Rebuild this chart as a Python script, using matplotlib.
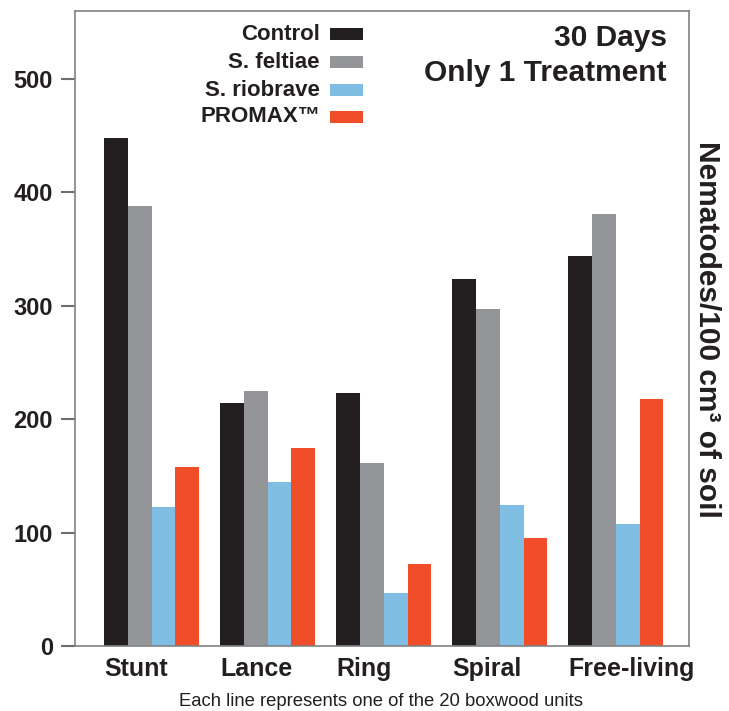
import matplotlib
matplotlib.use("Agg")
import matplotlib.pyplot as plt
import numpy as np
from matplotlib.patches import Rectangle

categories = ["Stunt", "Lance", "Ring", "Spiral", "Free-living"]
series_names = ["Control", "S. feltiae", "S. riobrave", "PROMAX\u2122"]
control = [448, 214, 223, 324, 344]
feltiae = [388, 225, 161, 297, 381]
riobrave = [123, 145, 47, 124, 108]
promax = [158, 175, 72, 95, 218]
yticks = [0, 100, 200, 300, 400, 500]

colors = ["#231f20", "#939598", "#7fbde2", "#f04e28"]
series = [control, feltiae, riobrave, promax]

plt.rcParams['font.family'] = ['Liberation Sans', 'DejaVu Sans']

fig = plt.figure(figsize=(7.29, 7.11), dpi=100)
ax = fig.add_axes([75/729, 1-646/711, (689-75)/729, (646-11)/711])

x = np.arange(len(categories))
w = 0.205
for i, (vals, c) in enumerate(zip(series, colors)):
    ax.bar(x + (i - 1.5) * w, vals, width=w, color=c, linewidth=0)

ax.set_xlim(-0.66, 4.63)
ax.set_ylim(0, 560)
ax.set_yticks(yticks)
ax.set_yticklabels([str(t) for t in yticks], fontsize=17, fontweight='bold', color='#231f20')
ax.set_xticks(x - 2 * w)
ax.set_xticklabels(categories, fontsize=18, fontweight='bold', color='#231f20', ha='left')
ax.tick_params(axis='y', length=10, width=1.5, color='#6d6e71', pad=6, direction='out')
ax.tick_params(axis='x', length=0, pad=8)
for s in ax.spines.values():
    s.set_color('#808285')
    s.set_linewidth(1.2)

# legend (custom, right aligned text with patches)
ytop = [34, 62, 90, 117]
for name, c, yp in zip(series_names, colors, ytop):
    fig.text(320/729, 1-yp/711, name, ha='right', va='center', fontsize=16,
             fontweight='bold', color='#231f20')
    fig.patches.append(Rectangle((330/729, 1-(yp+6)/711), 33/729, 12/711,
                                 transform=fig.transFigure, color=c, lw=0))

fig.text(667/729, 1-38/711, "30 Days", ha='right', va='center', fontsize=21.5,
         fontweight='bold', color='#231f20')
fig.text(667/729, 1-73/711, "Only 1 Treatment", ha='right', va='center', fontsize=21.5,
         fontweight='bold', color='#231f20')

fig.text(707/729, 1-329/711, "Nematodes/100 cm\u00b3 of soil", rotation=-90,
         ha='center', va='center', fontsize=21.5, fontweight='bold', color='#231f20')

fig.text(381/729, 1-702/711, "Each line represents one of the 20 boxwood units",
         ha='center', va='center', fontsize=13.3, color='#231f20')

fig.savefig("out.png", dpi=100)
